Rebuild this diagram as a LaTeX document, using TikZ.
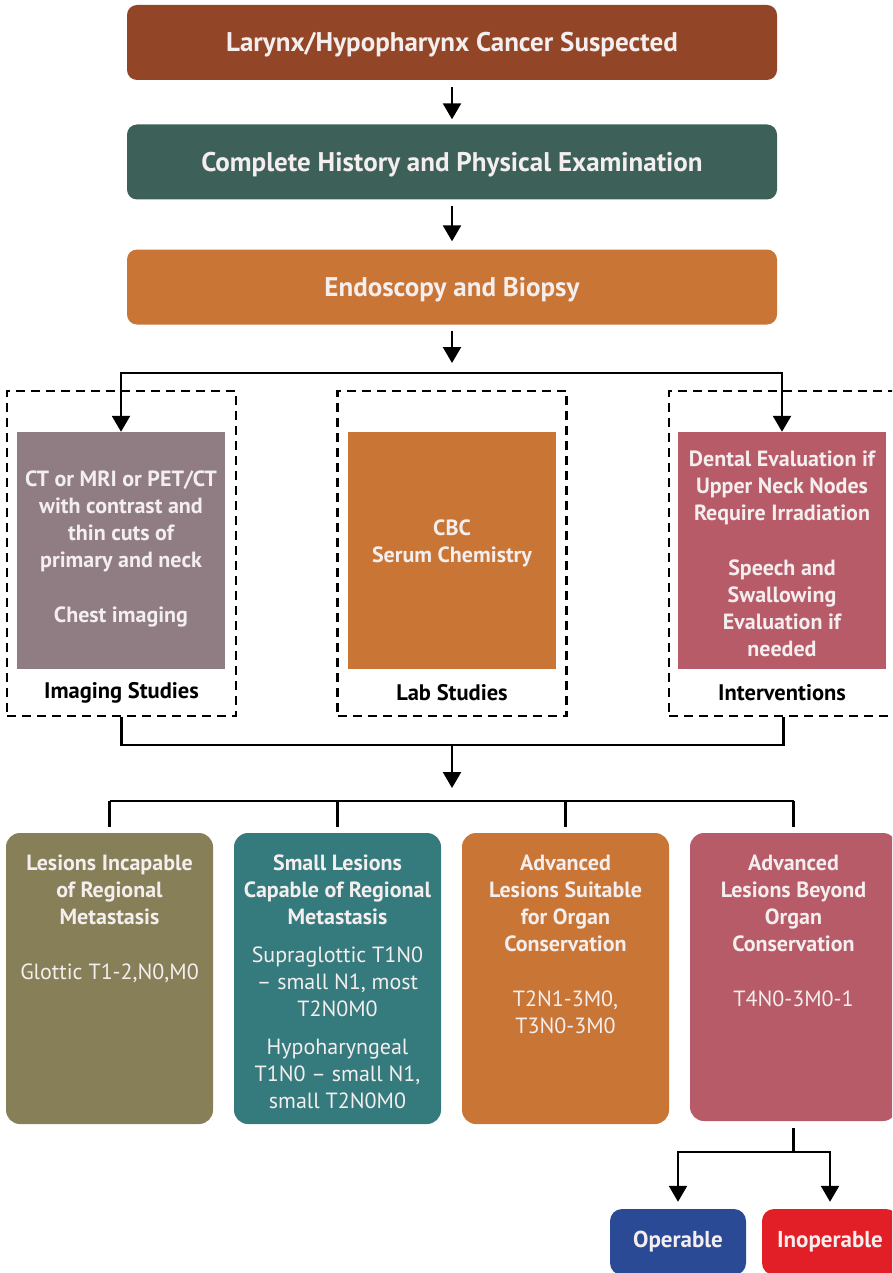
\documentclass[tikz,border=0pt]{standalone}
\usepackage{fontspec}
\setmainfont{PT Sans}
\usetikzlibrary{arrows.meta}
\definecolor{cSusp}{HTML}{924627}
\definecolor{cHist}{HTML}{3D6159}
\definecolor{cOrange}{HTML}{C97535}
\definecolor{cMauve}{HTML}{8F7D83}
\definecolor{cRose}{HTML}{B65B67}
\definecolor{cOlive}{HTML}{867F58}
\definecolor{cTeal}{HTML}{357A7D}
\definecolor{cBlue}{HTML}{2A4A96}
\definecolor{cRed}{HTML}{E21F26}
\definecolor{cText}{HTML}{F4EEEE}
\newcommand{\hd}[1]{\textbf{#1}}
\begin{document}
\begin{tikzpicture}[x=1pt,y=-1pt,
  flowbox/.style={rounded corners=10pt, minimum width=650pt, minimum height=75pt,
    inner sep=0pt, text=cText, text height=19pt, text depth=0pt,
    font=\bfseries\fontsize{27}{30}\selectfont},
  groupbox/.style={draw, dash pattern=on 9pt off 6pt, line width=2.6pt,
    minimum width=229pt, minimum height=325pt, inner sep=0pt},
  infobox/.style={minimum width=208pt, minimum height=237pt, inner sep=0pt},
  infotext/.style={text=cText, align=center, inner sep=0pt,
    font=\bfseries\fontsize{22}{27}\selectfont},
  grouplabel/.style={font=\bfseries\fontsize{22.5}{26}\selectfont, text=black},
  stagebox/.style={rounded corners=14pt, minimum width=207pt, minimum height=291pt, inner sep=0pt},
  stagetext/.style={text=cText, align=center, anchor=north, inner sep=0pt,
    font=\fontsize{22}{27}\selectfont},
  endbox/.style={rounded corners=12pt, minimum width=136pt, minimum height=66pt,
    inner sep=0pt, text=cText, font=\bfseries\fontsize{23}{26}\selectfont},
  arr/.style={line width=2.4pt, -{Triangle[width=18pt,length=16pt]}},
  link/.style={line width=2.4pt}]
\useasboundingbox (0,0) rectangle (892,1273);
\clip (0,0) rectangle (892,1273);

% main sequence
\node[flowbox, fill=cSusp] (susp) at (452,42.5) {Larynx/Hypopharynx Cancer Suspected};
\node[flowbox, fill=cHist] (hist) at (452,162) {Complete History and Physical Examination};
\node[flowbox, fill=cOrange] (endo) at (452,287) {Endoscopy and Biopsy};

\draw[arr, shorten <=7pt, shorten >=5pt] (susp.south) -- (hist.north);
\draw[arr, shorten <=6pt, shorten >=8pt] (hist.south) -- (endo.north);
\coordinate (endotip) at (452,363);
\draw[arr, shorten <=6pt] (endo.south) -- (endotip);

% work-up groups
\node[groupbox] (imggrp) at (121.5,553.5) {};
\node[groupbox] (labgrp) at (452,553.5) {};
\node[groupbox] (intgrp) at (783.5,553.5) {};

\node[infobox, fill=cMauve] (img) at (121,550.5) {};
\node[infobox, fill=cOrange] (lab) at (452,550.5) {};
\node[infobox, fill=cRose] (int) at (782,550.5) {};

\node[infotext] (imgtxt) at (121,548.5)
  {CT or MRI or PET/CT\\with contrast and\\thin cuts of\\primary and neck\\[28pt]Chest imaging};
\node[infotext] (labtxt) at (452,543.5) {CBC\\Serum Chemistry};
\node[infotext] (inttxt) at (782,553.5)
  {Dental Evaluation if\\Upper Neck Nodes\\Require Irradiation\\[28pt]Speech and\\Swallowing\\Evaluation if\\needed};

\node[grouplabel] (imglbl) at (121.5,693) {Imaging Studies};
\node[grouplabel] (lablbl) at (452,693) {Lab Studies};
\node[grouplabel] (intlbl) at (782,693) {Interventions};

\coordinate (bar1) at (452,373);
\draw[arr] (bar1) -| (img.north);
\draw[arr] (bar1) -| (int.north);

\coordinate (bar2) at (452,745);
\draw[link] (imggrp.south) |- (bar2) -| (intgrp.south);
\coordinate (bar2tip) at (452,788);
\draw[arr] (bar2) -- (bar2tip);

% lesion categories
\node[stagebox, fill=cOlive] (A) at (109.5,978.5) {};
\node[stagebox, fill=cTeal] (B) at (337.5,978.5) {};
\node[stagebox, fill=cOrange] (C) at (565.5,978.5) {};
\node[stagebox, fill=cRose, minimum height=288pt] (D) at (793.5,977) {};

\node[stagetext] (Atxt) at ([yshift=-22pt]A.north)
  {\hd{Lesions Incapable}\\\hd{of Regional}\\\hd{Metastasis}\\[28pt]Glottic T1-2,N0,M0};
\node[stagetext] (Btxt) at ([yshift=-22pt]B.north)
  {\hd{Small Lesions}\\\hd{Capable of Regional}\\\hd{Metastasis}\\[11pt]Supraglottic T1N0\\{\textendash} small N1, most\\T2N0M0\\[11pt]Hypoharyngeal\\T1N0 {\textendash} small N1,\\small T2N0M0};
\node[stagetext] (Ctxt) at ([yshift=-22pt]C.north)
  {\hd{Advanced}\\\hd{Lesions Suitable}\\\hd{for Organ}\\\hd{Conservation}\\[28pt]T2N1-3M0,\\T3N0-3M0};
\node[stagetext] (Dtxt) at ([yshift=-22pt]D.north)
  {\hd{Advanced}\\\hd{Lesions Beyond}\\\hd{Organ}\\\hd{Conservation}\\[28pt]T4N0-3M0-1};

\coordinate (bar3) at (452,801);
\draw[link] (A.north |- bar3) -- (D.north |- bar3);
\foreach \n in {A,B,C,D}
  \draw[link, shorten >=6pt] (\n.north |- bar3) -- (\n.north);

% operability
\node[endbox, fill=cBlue] (oper) at (678,1242) {Operable};
\node[endbox, fill=cRed] (inop) at (830,1242) {Inoperable};

\coordinate (fork) at (793.5,1152);
\draw[link, shorten <=7pt] (D.south) -- (fork);
\draw[arr, shorten >=7pt] (fork) -| (oper.north);
\draw[arr, shorten >=7pt] (fork) -| (inop.north);
\end{tikzpicture}
\end{document}
